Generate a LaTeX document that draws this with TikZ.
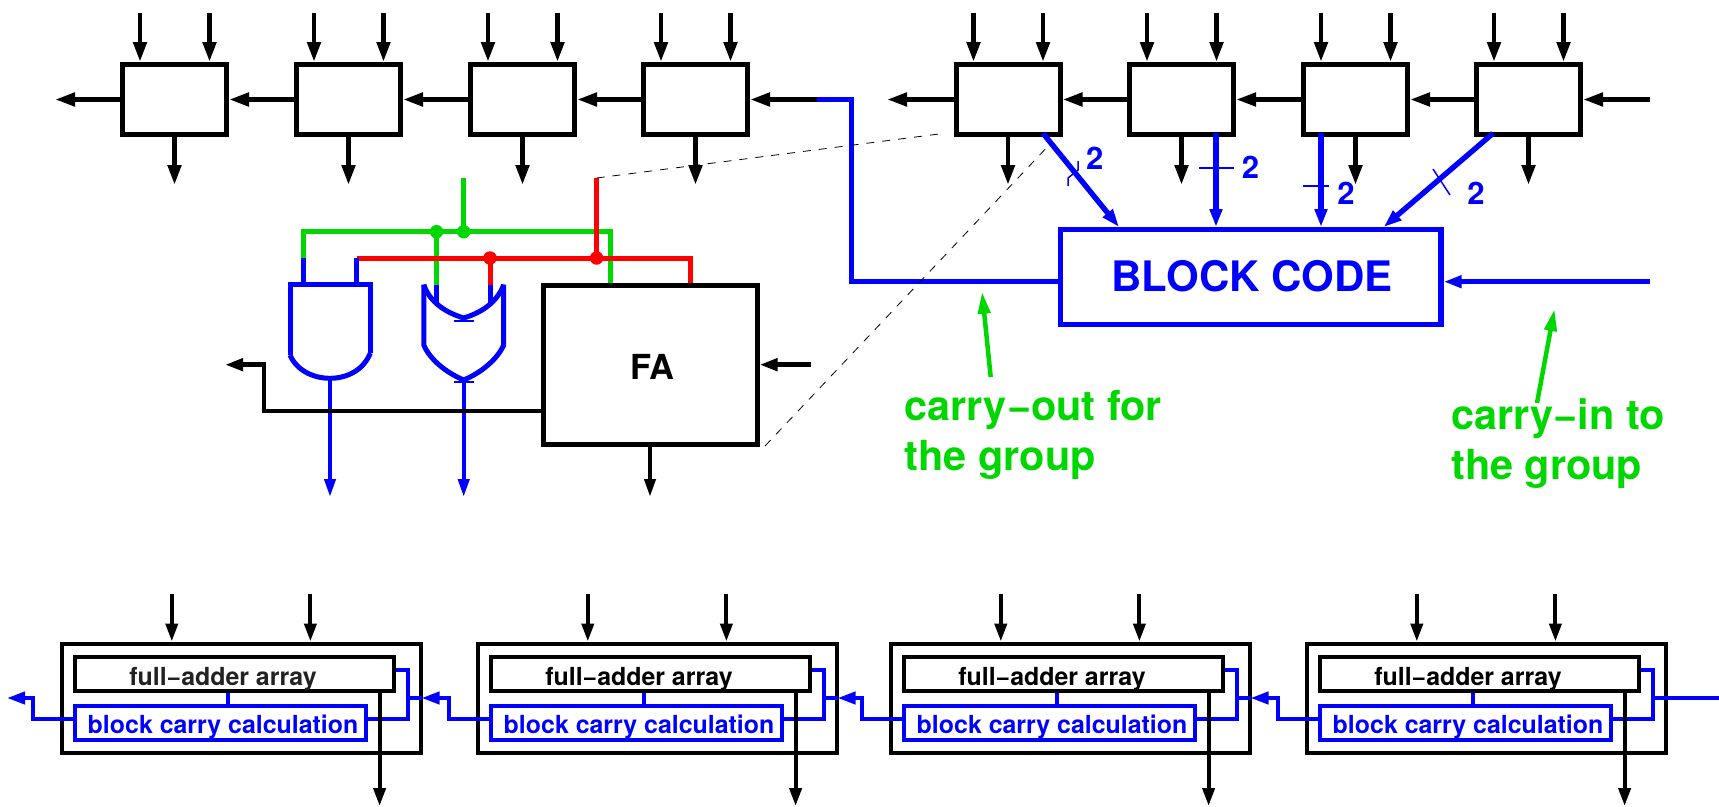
\documentclass[tikz,border=0pt]{standalone}
\usepackage{fontspec}
\setmainfont{TeX Gyre Heros}
\usetikzlibrary{arrows.meta}
\definecolor{wblue}{RGB}{0,0,255}
\definecolor{wgreen}{RGB}{0,214,0}
\definecolor{wred}{RGB}{255,0,0}
\definecolor{fagray}{RGB}{34,34,34}
\tikzset{
  blk/.style={draw=black,line width=5pt,minimum width=104pt,minimum height=70pt,inner sep=0pt},
  tiplarge/.style={-{Triangle[length=20pt,width=13pt]}},
  tipmid/.style={-{Triangle[length=18pt,width=12pt]}},
  topwire/.style={draw=black,line width=4.8pt,tiplarge},
  bwire/.style={wblue,line width=5.4pt,line join=miter,tipmid},
  bthin/.style={wblue,line width=1.5pt},
  two/.style={text=wblue,font=\bfseries\fontsize{31}{31}\selectfont,inner sep=0pt},
  gatew/.style={wblue,line width=5pt},
  grw/.style={wgreen,line width=5pt,line join=miter},
  rdw/.style={wred,line width=5pt,line join=miter},
  dot/.style={circle,inner sep=0pt,minimum size=13.5pt},
  glabel/.style={text=wgreen,font=\bfseries\fontsize{41.4}{50}\selectfont,align=left,inner sep=0pt,anchor=base west},
  garrow/.style={wgreen,line width=4.5pt,-{Triangle[length=22pt,width=12pt]}},
  mout/.style={draw=black,line width=4pt,minimum width=359.5pt,minimum height=109.5pt,inner sep=0pt},
  mfa/.style={draw=black,line width=4pt,minimum width=319pt,minimum height=34pt,inner sep=0pt},
  mcc/.style={draw=wblue,line width=4pt,minimum width=291pt,minimum height=34.5pt,inner sep=0pt},
  mtext/.style={font=\bfseries\fontsize{24.9}{24.9}\selectfont,inner sep=0pt},
  mw/.style={wblue,line width=4pt,line join=miter},
  mk/.style={black,line width=4pt,tipmid},
  dsh/.style={black,line width=0.8pt,dash pattern=on 8pt off 8pt},
}
\begin{document}
\begin{tikzpicture}[x=1pt,y=-1pt]
\useasboundingbox (0,0) rectangle (1719,806);
\fill[white] (0,0) rectangle (1719,806);

% top row blocks
\foreach \n/\l in {a1/122.5,a2/296.5,a3/470.5,a4/643.5,b1/956,b2/1129.5,b3/1303.5,b4/1476.5}{
  \node[blk] (\n) at ({\l+52},99.5) {};
  \coordinate (\n i) at ({\l+17.5},13);
  \coordinate (\n j) at ({\l+87},13);
  \coordinate (\n o) at ({\l+52},185);
  \draw[topwire] (\n i) -- (\n i |- \n.north);
  \draw[topwire] (\n j) -- (\n j |- \n.north);
  \draw[topwire] (\n o |- \n.south) -- (\n o);
}
\coordinate (aout) at (55,99.5);
\coordinate (bout) at (887,99.5);
\coordinate (bin) at (1650,99.5);
\coordinate (cj) at (817,99.5);
\draw[topwire] (a1.west) -- (aout);
\draw[topwire] (a2.west) -- (a1.east);
\draw[topwire] (a3.west) -- (a2.east);
\draw[topwire] (a4.west) -- (a3.east);
\draw[topwire] (cj) -- (a4.east);
\draw[topwire] (b1.west) -- (bout);
\draw[topwire] (b2.west) -- (b1.east);
\draw[topwire] (b3.west) -- (b2.east);
\draw[topwire] (b4.west) -- (b3.east);
\draw[topwire] (bin) -- (b4.east);

% block code
\node[draw=wblue,line width=5.4pt,minimum width=380.5pt,minimum height=95pt,inner sep=0pt] (code) at (1250.75,277) {};
\node[text=wblue,font=\bfseries\fontsize{42}{42}\selectfont,inner sep=0pt] (codet) at (1252,276) {BLOCK CODE};
\coordinate (cbend) at (851.7,99.5);
\coordinate (cin) at (1650,281.7);
\draw[wblue,line width=5pt,line join=miter] (cj) -- (cbend) |- (code.west |- cin);
\draw[bwire] (cin) -- (code.east |- cin);

\coordinate (s1) at (1043,133.3); \coordinate (e1) at (1119,227);
\coordinate (s2) at (1216,133.3); \coordinate (e2) at (1216,227);
\coordinate (s3) at (1321,133.3); \coordinate (e3) at (1321,227);
\coordinate (s4) at (1493,133.3); \coordinate (e4) at (1383.7,227);
\draw[bwire] (s1) -- (e1);
\draw[bwire] (s2) -- (e2);
\draw[bwire] (s3) -- (e3);
\draw[bwire] (s4) -- (e4);
\draw[bthin] (1078,161) -- (1078,170) -- (1068,178) -- (1068,186);
\draw[bthin] (1199,168) -- (1233.5,168);
\draw[bthin] (1303,186) -- (1329,186);
\draw[bthin] (1433,169) -- (1450,195);
\node[two] (t1) at (1094.7,158) {2};
\node[two] (t2) at (1250.6,167) {2};
\node[two] (t3) at (1346,193) {2};
\node[two] (t4) at (1476,193) {2};

% green labels
\coordinate (g1s) at (990.7,377); \coordinate (g1e) at (982,291.7);
\coordinate (g2s) at (1537,403); \coordinate (g2e) at (1554.5,309);
\draw[garrow] (g1s) -- (g1e);
\draw[garrow] (g2s) -- (g2e);
\node[glabel] (lout) at (904.5,470) {carry−out for\\the group};
\node[glabel] (lin) at (1451,479) {carry−in to\\the group};

% wires above gates
\coordinate (gtop) at (463.7,178);
\coordinate (rtop) at (596.6,178);
\coordinate (gbusl) at (303.6,231.7);
\coordinate (gbusr) at (610.4,231.7);
\coordinate (rbusl) at (356.6,258);
\coordinate (rbusr) at (690.3,258);
\node[dot,fill=wgreen] (gd1) at (436.5,231.7) {};
\node[dot,fill=wgreen] (gd2) at (463.7,231.7) {};
\node[dot,fill=wred] (rd1) at (490,258) {};
\node[dot,fill=wred] (rd2) at (596.6,258) {};

% FA box
\node[draw=black,line width=5pt,minimum width=213.5pt,minimum height=159.5pt,inner sep=0pt] (fa) at (650.25,364.75) {};
\node[font=\bfseries\fontsize{34.5}{34.5}\selectfont,inner sep=0pt] (fat) at (652.7,367) {FA};

\draw[grw] (gtop) -- (gd2.center);
\draw[grw] (303.6,258.3) |- (gbusl) -- (gbusr) -- (gbusr |- fa.north);
\draw[grw] (gd1.center) -- (436.5,284.7);
\draw[rdw] (rtop) -- (rd2.center);
\draw[rdw] (rbusl) -- (rbusr) -- (rbusr |- fa.north);
\draw[rdw] (rd1.center) -- (490,284.7);

% AND gate
\draw[gatew] (303.6,258.3) -- (303.6,284.7);
\draw[gatew] (rbusl) -- (356.6,284.7);
\draw[gatew] (290,355) -- (290,284.7) -- (370.4,284.7) -- (370.4,353);
\draw[gatew] (290,355) .. controls (297,371) and (314,378.3) .. (330,378.3) .. controls (346,378.3) and (363,371) .. (370.4,353);
% OR gate
\draw[gatew] (436.5,284.7) -- (436.5,305);
\draw[gatew] (490,284.7) -- (490,305);
\draw[gatew] (423.8,284.7) -- (423.8,345) .. controls (430,360) and (447,373) .. (463.7,380) .. controls (480.4,373) and (497,360) .. (503.7,345) -- (503.7,284.7);
\draw[gatew] (423.8,284.7) .. controls (430,303) and (447,313) .. (463.7,318) .. controls (480.4,313) and (497,303) .. (503.7,284.7);
\draw[wblue,line width=2pt] (454,320.5) -- (473.6,320.5);
\draw[wblue,line width=2pt] (454,381.5) -- (473.6,381.5);

% outputs
\coordinate (ao) at (330,497); \coordinate (ob) at (463.7,497); \coordinate (fo) at (650,497);
\draw[wblue,line width=4pt,-{Triangle[length=18pt,width=11pt]}] (330,378.3) -- (ao);
\draw[wblue,line width=4pt,-{Triangle[length=18pt,width=11pt]}] (463.7,381) -- (ob);
\draw[black,line width=4pt,-{Triangle[length=18pt,width=11pt]}] (fo |- fa.south) -- (fo);
\coordinate (fl1) at (264,411); \coordinate (fl2) at (264,364.7); \coordinate (fl3) at (225,364.7);
\draw[black,line width=4.8pt,line join=miter] (fa.west |- fl1) -- (fl1) -- (fl2) -- (243,364.7);
\draw[black,line width=4.8pt,-{Triangle[length=18pt,width=12pt]}] (250,364.7) -- (fl3);
\coordinate (fin) at (811,364.7);
\draw[black,line width=4.8pt,-{Triangle[length=18pt,width=12pt]}] (fin) -- (fa.east |- fin);

% bottom modules
\foreach \n/\o/\tc in {m1/0/fagray,m2/416/black,m3/829/black,m4/1245/black}{
\begin{scope}[xshift=\o pt]
  \node[mout] (\n o) at (241.25,698.25) {};
  \node[mfa] (\n f) at (234.5,674) {};
  \node[mcc] (\n c) at (220.5,722.75) {};
  \node[mtext,text=\tc] (\n ft) at (223,679) {full−adder array};
  \node[mtext,text=wblue] (\n ct) at (223,727) {block carry calculation};
  \coordinate (\n k) at (227.5,698);
  \coordinate (\n p) at (171.8,594.3);
  \coordinate (\n P) at (310.4,594.3);
  \coordinate (\n q) at (379.6,806);
  \coordinate (\n r) at (408,719.3);
  \coordinate (\n u) at (408,670);
  \coordinate (\n b) at (408,698);
  \coordinate (\n t) at (421.5,698);
  \coordinate (\n w) at (33.3,719.3);
  \coordinate (\n x) at (33.3,698);
  \draw[mw] (\n k |- \n f.south) -- (\n k |- \n c.north);
  \draw[mw] (\n c.east |- \n r) -- (\n r) -- (\n u) -- (\n f.east |- \n u);
  \draw[mk] (\n p) -- (\n p |- \n o.north);
  \draw[mk] (\n P) -- (\n P |- \n o.north);
  \draw[mk] (\n q |- \n f.south) -- (\n q);
\end{scope}
}
\coordinate (mleft) at (7,698);
\coordinate (mright) at (1719,698);
\draw[mw,tipmid] (m1c.west |- m1w) -- (m1w) -- (m1x) -- (mleft);
\draw[mw,tipmid] (m2c.west |- m2w) -- (m2w) -- (m2x) -- (m1t);
\draw[mw] (m1t) -- (m1b);
\draw[mw,tipmid] (m3c.west |- m3w) -- (m3w) -- (m3x) -- (m2t);
\draw[mw] (m2t) -- (m2b);
\draw[mw,tipmid] (m4c.west |- m4w) -- (m4w) -- (m4x) -- (m3t);
\draw[mw] (m3t) -- (m3b);
\draw[mw] (mright) -- (m4b);

% dashed zoom lines
\coordinate (dA) at (939,134);
\coordinate (dB) at (1051,143);
\coordinate (dC) at (765,446);
\draw[dsh] (rtop) -- (dA);
\draw[dsh] (dC) -- (dB);
\end{tikzpicture}
\end{document}
